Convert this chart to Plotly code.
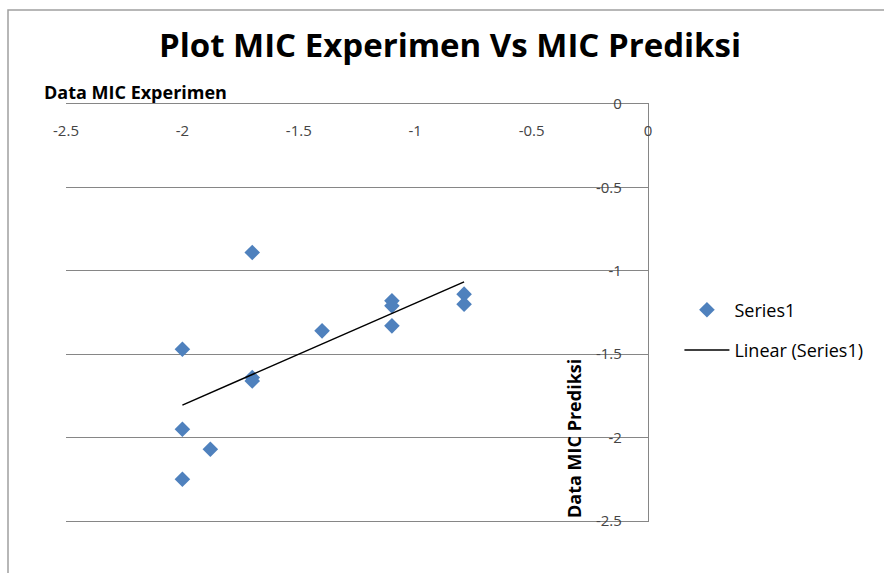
import numpy as np
import plotly.graph_objects as go

# Data
mic_experimen = [-1.70, -2.00, -2.00, -1.88, -2.00, -1.70, -1.70, -1.40, -1.10, -1.10, -1.10, -0.79, -0.79]
mic_prediksi = [-0.89, -1.47, -1.95, -2.07, -2.25, -1.64, -1.66, -1.36, -1.18, -1.21, -1.33, -1.14, -1.20]
x_ticks = [-2.5, -2, -1.5, -1, -0.5, 0]
y_ticks = [0, -0.5, -1, -1.5, -2, -2.5]

# Linear trendline (least squares), spanning the data's x range
slope, intercept = np.polyfit(mic_experimen, mic_prediksi, 1)
x_fit = np.array([min(mic_experimen), max(mic_experimen)])
y_fit = slope * x_fit + intercept

FONT = "Open Sans"
GRID = "#868686"

fig = go.Figure()
fig.add_trace(go.Scatter(
    x=mic_experimen, y=mic_prediksi, mode="markers", name="Series1",
    legendgroup="a",
    marker=dict(symbol="diamond", size=12, color="#4F81BD"),
))
fig.add_trace(go.Scatter(
    x=x_fit, y=y_fit, mode="lines", name="Linear (Series1)",
    legendgroup="b",
    line=dict(color="black", width=1.5),
))

fig.update_layout(
    width=884, height=573,
    paper_bgcolor="white", plot_bgcolor="white",
    margin=dict(l=66, r=236, t=104, b=52),
    font=dict(family=FONT, size=15, color="black"),
    title=dict(text="<b>Plot MIC Experimen Vs MIC Prediksi</b>",
               x=450 / 884, xanchor="center", y=1 - 45 / 573, yanchor="middle",
               font=dict(family=FONT, size=33, color="black")),
    showlegend=True,
    legend=dict(x=1.054, y=0.458, xanchor="left", yanchor="middle",
                font=dict(family=FONT, size=18), tracegroupgap=14,
                itemwidth=45, bgcolor="rgba(0,0,0,0)"),
    xaxis=dict(range=[-2.5, 0], side="top", tickvals=x_ticks,
               ticktext=[f"{v:g}" for v in x_ticks],
               ticklabelposition="inside", ticklabelstandoff=21,
               ticklabeloverflow="allow",
               showgrid=False, zeroline=False, showline=True, mirror=True,
               linecolor=GRID, linewidth=1.3, ticks="",
               tickfont=dict(family=FONT, size=15)),
    yaxis=dict(range=[-2.5, 0], side="right", tickvals=y_ticks,
               ticktext=[f"{v:g}" for v in y_ticks],
               ticklabelposition="inside", ticklabelstandoff=26,
               ticklabeloverflow="allow",
               showgrid=True, gridcolor=GRID, gridwidth=1.3,
               zeroline=False, showline=True, linecolor=GRID, linewidth=1.3,
               ticks="", tickfont=dict(family=FONT, size=15)),
    annotations=[
        dict(text="<b>Data MIC Experimen</b>", xref="paper", yref="paper",
             x=(42 - 66) / 582, y=(521 - 92) / 417, xanchor="left", yanchor="middle",
             showarrow=False, font=dict(family=FONT, size=18)),
        dict(text="<b>Data MIC Prediksi</b>", xref="paper", yref="paper",
             x=(574 - 66) / 582, y=(521 - 439) / 417, xanchor="center", yanchor="middle",
             textangle=-90, showarrow=False, font=dict(family=FONT, size=18)),
    ],
    shapes=[
        dict(type="rect", xref="paper", yref="paper",
             x0=(8 - 66) / 582, x1=2, y0=-0.5, y1=(521 - 10) / 417,
             line=dict(color="#A0A0A0", width=1.5), fillcolor="rgba(0,0,0,0)",
             layer="below"),
    ],
)

fig.write_html("out.html", config={"displayModeBar": False},
               post_script="document.body.style.margin='0px';")
